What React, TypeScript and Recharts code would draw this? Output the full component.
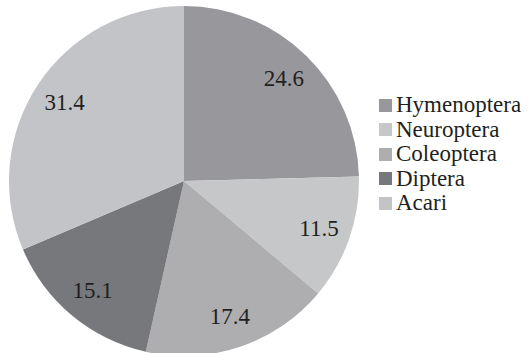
import React from "react";
import { Cell, Legend, Pie, PieChart } from "recharts";

const orders = ["Hymenoptera", "Neuroptera", "Coleoptera", "Diptera", "Acari"];
const shares = [24.6, 11.5, 17.4, 15.1, 31.4];
const colors = ["#98989c", "#c6c7c9", "#aeaeb1", "#77787c", "#c3c4c7"];

const data = orders.map((name, i) => ({ name, value: shares[i] }));

const FONT = "Liberation Serif, Times New Roman, serif";
const RAD = Math.PI / 180;

const renderLabel = (props: any) => {
  const { cx, cy, midAngle, value } = props;
  const r = 143;
  const x = cx + r * Math.cos(-midAngle * RAD);
  const y = cy + r * Math.sin(-midAngle * RAD);
  return (
    <text
      x={x}
      y={y}
      textAnchor="middle"
      dominantBaseline="central"
      fill="#231f20"
      fontFamily={FONT}
      fontSize={23}
    >
      {value.toFixed(1)}
    </text>
  );
};

const LegendList = () => (
  <div style={{ fontFamily: FONT, fontSize: 23, color: "#231f20" }}>
    {orders.map((name, i) => (
      <div
        key={name}
        style={{ display: "flex", alignItems: "center", height: 24.5 }}
      >
        <span
          style={{
            display: "inline-block",
            width: 13,
            height: 13,
            background: colors[i],
            marginRight: 4,
          }}
        />
        <span>{name}</span>
      </div>
    ))}
  </div>
);

export default function App() {
  return (
    <div style={{ position: "absolute", left: 0, top: 0, background: "#fff" }}>
      <PieChart width={529} height={353}>
        <Pie
          data={data}
          dataKey="value"
          nameKey="name"
          cx={179}
          cy={176}
          outerRadius={175}
          startAngle={90}
          endAngle={-270}
          stroke="none"
          label={renderLabel}
          labelLine={false}
          isAnimationActive={false}
        >
          {data.map((d, i) => (
            <Cell key={d.name} fill={colors[i]} />
          ))}
        </Pie>
        <Legend
          content={<LegendList />}
          wrapperStyle={{ left: 379, top: 93, width: 150 }}
        />
      </PieChart>
    </div>
  );
}
